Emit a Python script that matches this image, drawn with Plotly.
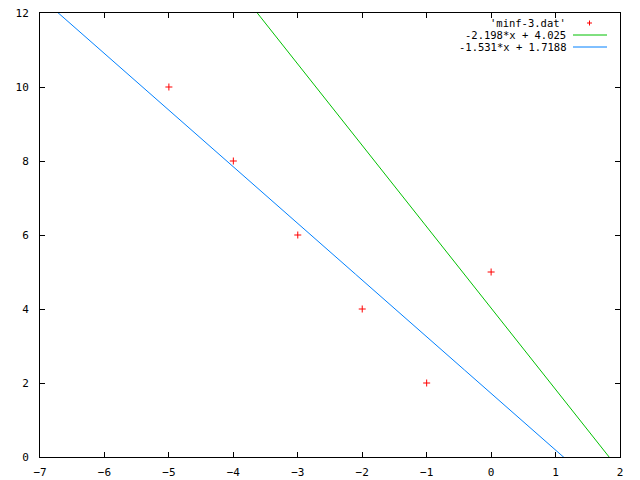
import numpy as np
import plotly.graph_objects as go

# data
data_x = [-5, -4, -3, -2, -1, 0]
data_y = [10, 8, 6, 4, 2, 5]
fit_labels = ["-2.198*x + 4.025", "-1.531*x + 1.7188"]
fit_slopes = [-2.198, -1.531]
fit_intercepts = [4.025, 1.7188]
fit_colors = ["#00c000", "#0080ff"]
data_label = "'minf-3.dat'"
x_ticks = [-7, -6, -5, -4, -3, -2, -1, 0, 1, 2]
y_ticks = [0, 2, 4, 6, 8, 10, 12]

FONT = dict(family="DejaVu Sans Mono", size=11, color="black")
# page has an 8px body margin: size figure to fill the remaining window
OFF = 8
W, H = 640 - OFF, 480 - OFF
L, R, T, B = 40 - OFF, 20, 13 - OFF, 23
PW, PH = W - L - R, H - T - B


def px2paper_x(px):
    return (px - OFF - L) / PW


def px2paper_y(py):
    return 1 - (py - OFF - T) / PH


fig = go.Figure()
xs = np.linspace(-7, 2, 400)
for m, b, c in zip(fit_slopes, fit_intercepts, fit_colors):
    fig.add_trace(go.Scatter(x=xs, y=m * xs + b, mode="lines",
                             line=dict(color=c, width=1), showlegend=False,
                             hoverinfo="skip"))
fig.add_trace(go.Scatter(x=data_x, y=data_y, mode="markers",
                         marker=dict(symbol="cross-thin", size=5,
                                     line=dict(color="red", width=1)),
                         showlegend=False, cliponaxis=False))

# custom gnuplot-style legend (text right-aligned, sample on the right)
rows = [(data_label, None), (fit_labels[0], fit_colors[0]), (fit_labels[1], fit_colors[1])]
row_y = [23, 35, 47]
for (lab, col), py in zip(rows, row_y):
    yp = px2paper_y(py)
    fig.add_annotation(xref="paper", yref="paper", x=px2paper_x(567), y=yp,
                       text=lab, showarrow=False, xanchor="right",
                       yanchor="middle", font=dict(FONT, size=10.5), borderpad=0)
    if col is not None:
        fig.add_shape(type="line", xref="paper", yref="paper",
                      x0=px2paper_x(573), x1=px2paper_x(607), y0=yp, y1=yp,
                      line=dict(color=col, width=1))
    else:
        fig.add_shape(type="line", xref="paper", yref="paper",
                      x0=px2paper_x(587), x1=px2paper_x(592), y0=yp, y1=yp,
                      line=dict(color="red", width=1))
        fig.add_shape(type="line", xref="paper", yref="paper",
                      x0=px2paper_x(589.5), x1=px2paper_x(589.5),
                      y0=px2paper_y(py - 2.5), y1=px2paper_y(py + 2.5),
                      line=dict(color="red", width=1))

axis_common = dict(showgrid=False, zeroline=False, showline=True, mirror="ticks",
                   linecolor="black", linewidth=1, ticks="inside", ticklen=5,
                   tickcolor="black", tickwidth=1, tickfont=FONT, automargin=False,
                   ticklabeloverflow="allow")
fig.update_xaxes(range=[-7, 2], tickvals=x_ticks, ticklabelstandoff=5, **axis_common)
fig.update_yaxes(range=[0, 12], tickvals=y_ticks, ticklabelstandoff=8, **axis_common)

fig.update_layout(width=W, height=H, plot_bgcolor="white", paper_bgcolor="white",
                  margin=dict(l=L, r=R, t=T, b=B), showlegend=False)

fig.write_html("out.html")
